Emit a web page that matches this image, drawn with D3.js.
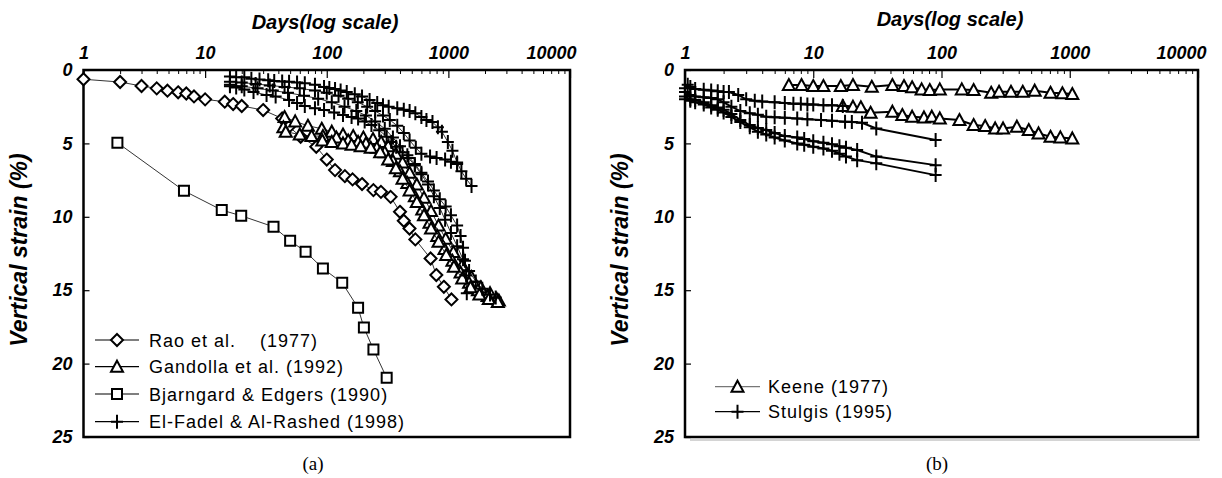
<!DOCTYPE html>
<html><head><meta charset="utf-8">
<script src="https://cdn.jsdelivr.net/npm/d3@7"></script>
<style>
html,body{margin:0;padding:0;background:#fff;}
svg{display:block;}
text{font-family:"Liberation Sans",Arial,sans-serif;fill:#000;}
.ax text{font-weight:bold;font-style:italic;font-size:18px;}
</style></head>
<body><svg id="c" width="1222" height="478"></svg>
<script>
// ---------- data ----------
const xTickValues = [1, 10, 100, 1000, 10000];
const xTickLabels = ["1", "10", "100", "1000", "10000"];
const yTickValues = [0, 5, 10, 15, 20, 25];
const titleX = "Days(log scale)";
const titleY = "Vertical strain (%)";

// panel (a)
const raoEtAl = [[1,0.63],[2,0.82],[3,1.09],[4,1.25],[4.9,1.41],[6,1.52],[7,1.6],[8.1,1.8],[10,2.0],[14.5,2.16],[17,2.32],[20,2.45],[30,2.73],[43,3.3],[49,3.86],[61,4.55],[82,5.23],[100,6.1],[117,6.82],[141,7.23],[163,7.45],[195,7.77],[242,8.18],[279,8.3],[335,8.64],[400,9.66],[430,10.27],[479,10.8],[535,11.54],[714,12.84],[796,13.97],[918,14.77],[1060,15.63]];
const bjarngard = [[1.9,4.95],[6.7,8.23],[13.7,9.54],[19.8,9.93],[36.5,10.68],[50,11.63],[67,12.38],[93,13.52],[134,14.5],[181,16.2],[202,17.54],[242,19.04],[311,20.97]];
const gandollaA = [[45,3.2],[55,3.5],[70,3.8],[91,4.0],[110,4.2],[136,4.4],[165,4.5],[200,4.6],[240,4.7],[280,4.9],[320,5.2],[370,5.7],[420,6.3],[480,7.0],[550,7.8],[630,8.7],[720,9.6],[830,10.6],[950,11.5],[1100,12.4],[1300,13.3],[1550,14.1],[1850,14.8],[2200,15.2],[2500,15.6]];
const gandollaB = [[44,3.9],[46,4.2],[60,4.4],[75,4.5],[93,4.5],[120,4.6],[150,4.8],[181,4.9],[210,5.0],[258,5.3],[300,5.6],[350,6.2],[400,6.9],[460,7.7],[530,8.6],[610,9.5],[700,10.4],[810,11.3],[930,12.2],[1080,13.0],[1260,13.8],[1480,14.5],[1750,15.0],[2100,15.4],[2600,15.7]];
const gandollaC = [[92,4.8],[110,4.9],[136,5.0],[160,5.1],[190,5.2],[230,5.3],[275,5.6],[320,6.1],[370,6.7],[420,7.4],[480,8.2],[550,9.0],[630,9.9],[720,10.8],[830,11.7],[960,12.6],[1110,13.4],[1300,14.2],[1520,14.8],[1800,15.3],[2150,15.6],[2550,15.8]];
const elFadelA = [[16,0.45],[18,0.5],[21,0.5],[24,0.6],[28,0.65],[33,0.7],[37,0.75],[43,0.78],[49,0.8],[57,0.85],[66,0.9],[80,1.0],[95,1.15],[105,1.22],[117,1.3],[130,1.4],[146,1.5],[170,1.65],[195,1.8],[225,2.05],[260,2.25],[290,2.4],[323,2.5],[380,2.6],[430,2.7],[480,2.8],[535,2.95],[600,3.2],[660,3.4],[740,3.55],[820,3.9],[885,4.2],[990,4.9],[1080,5.5],[1180,6.3],[1280,6.9],[1400,7.4],[1550,7.9]];
const elFadelB = [[16,1.1],[18,1.2],[21,1.32],[25,1.5],[32,1.7],[38,1.8],[49,2.05],[57,2.25],[66,2.45],[80,2.6],[95,2.73],[115,2.9],[136,3.07],[160,3.2],[181,3.3],[205,3.5],[233,3.75],[270,4.1],[311,4.55],[340,4.9],[372,5.23],[420,5.6],[470,6.0],[530,6.5],[600,7.1],[680,7.8],[760,8.6],[850,9.4],[940,10.2],[1050,11.1],[1180,12.0],[1320,12.9],[1480,13.7],[1680,14.4],[1900,14.9],[2200,15.3],[2450,15.5]];
const elFadelC = [[16,0.8],[20,0.85],[26,0.95],[34,1.05],[45,1.15],[60,1.25],[80,1.4],[100,1.55],[125,1.75],[150,1.95],[180,2.2],[215,2.5],[250,2.8],[290,3.1],[330,3.4],[380,3.8],[430,4.3],[480,4.8],[540,5.3],[600,5.7],[707,5.9],[800,6.0],[940,6.1],[1050,6.25],[1180,6.4]];
const elFadelD = [[16,1.0],[20,1.1],[27,1.25],[36,1.4],[48,1.55],[65,1.75],[85,1.95],[110,2.2],[140,2.5],[175,2.8],[210,3.1],[250,3.5],[300,4.0],[350,4.6],[400,5.2],[460,5.8],[530,6.4],[600,7.0],[680,7.6],[760,8.2],[850,8.8],[950,9.3],[1050,9.9],[1180,10.6],[1260,11.3],[1320,12.1],[1370,13.0],[1400,14.0],[1417,15.2]];

// panel (b)
const keeneA = [[6.45,1.02],[8.1,1.02],[10,1.09],[12,1.09],[16.4,1.09],[20.4,1.02],[28.6,1.14],[41.4,1.02],[51,1.09],[59,1.18],[70,1.32],[81,1.36],[97,1.32],[144,1.32],[178,1.36],[244,1.55],[281,1.48],[348,1.48],[430,1.48],[533,1.41],[708,1.55],[876,1.59],[1047,1.64]];
const keeneB = [[17,2.45],[20.4,2.5],[23.5,2.54],[28,2.91],[41.4,2.84],[49.5,3.07],[59,3.18],[73,3.23],[84,3.18],[97,3.3],[138,3.41],[178,3.75],[219,3.82],[262,3.98],[302,3.98],[387,3.86],[479,4.09],[571,4.32],[708,4.55],[845,4.59],[1047,4.66]];
const stulgisA = [[1,1.25],[1.05,1.0],[1.1,1.15],[1.2,1.3],[1.4,1.35],[1.6,1.4],[1.8,1.45],[2,1.5],[2.2,1.5],[2.6,1.7],[3,2.0],[3.5,2.1],[4,2.15],[5,2.2],[6,2.25],[7,2.3],[8,2.3],[9,2.35],[10,2.35],[12,2.4],[14,2.4],[17,2.45]];
const stulgisB = [[1,1.5],[1.1,1.7],[1.2,1.8],[1.4,1.85],[1.6,1.9],[1.8,2.0],[2,2.2],[2.3,2.5],[2.7,2.8],[3.2,2.95],[3.7,3.05],[4.3,3.18],[5,3.22],[6,3.26],[7.5,3.3],[9,3.35],[11.5,3.41],[14,3.45],[17.7,3.52],[20,3.55],[24,3.6],[31,3.98],[90,4.77]];
const stulgisC = [[1,1.8],[1.1,2.0],[1.2,2.05],[1.4,2.2],[1.6,2.4],[1.8,2.55],[2,2.7],[2.3,3.0],[2.7,3.4],[3.2,3.75],[3.7,3.95],[4.3,4.09],[5,4.3],[6,4.5],[7.5,4.6],[8.5,4.7],[10,4.85],[12,4.95],[14,5.05],[16,5.2],[18,5.3],[22,5.45],[31,5.9],[90,6.48]];
const stulgisD = [[1,2.0],[1.1,2.1],[1.2,2.2],[1.4,2.35],[1.6,2.55],[1.8,2.7],[2,2.9],[2.3,3.2],[2.7,3.55],[3.2,3.9],[3.7,4.2],[4.3,4.4],[5,4.6],[6,4.8],[7.5,5.0],[8.5,5.1],[10,5.23],[12,5.35],[14,5.5],[16,5.7],[18,5.9],[22,6.14],[31,6.36],[90,7.16]];

const legendA = ["Rao et al.    (1977)", "Gandolla et al. (1992)", "Bjarngard & Edgers (1990)", "El-Fadel & Al-Rashed (1998)"];
const legendB = ["Keene (1977)", "Stulgis (1995)"];

// ---------- drawing ----------
const svg = d3.select("#c");

function markerPath(t) {
  if (t === "diamond") return "M0,-6L6,0L0,6L-6,0Z";
  if (t === "triangle") return "M0,-6L6,5L-6,5Z";
  if (t === "square") return "M-5,-5H5V5H-5Z";
  return "M-6,0H6M0,-7V7";
}

function panel(cfg) {
  const g = svg.append("g");
  const x = d3.scaleLog().domain([1, 10000]).range([cfg.x0, cfg.x1]);
  const y = d3.scaleLinear().domain([0, 25]).range([cfg.y0, cfg.y1]);

  const minors = [];
  for (let e = 0; e < 4; e++) for (let k = 2; k <= 9; k++) minors.push(k * Math.pow(10, e));
  g.append("g").attr("transform", `translate(0,${cfg.y0})`)
    .call(d3.axisTop(x).tickValues(minors).tickSize(-4).tickFormat(""))
    .call(s => s.select(".domain").remove())
    .call(s => s.selectAll("line").attr("stroke", "#000").attr("stroke-width", 1));

  const ax = g.append("g").attr("class", "ax").attr("transform", `translate(0,${cfg.y0})`)
    .call(d3.axisTop(x).tickValues(xTickValues).tickSize(-8).tickPadding(11)
      .tickFormat((d, i) => xTickLabels[i]));
  ax.select(".domain").remove();
  ax.selectAll("line").attr("stroke", "#000").attr("stroke-width", 1.2);
  ax.selectAll("text").attr("text-anchor", (d, i) => i === xTickValues.length - 1 ? "end" : "middle")
    .attr("dx", (d, i) => i === xTickValues.length - 1 ? cfg.lastDx : 0);

  const ay = g.append("g").attr("class", "ax").attr("transform", `translate(${cfg.x0},0)`)
    .call(d3.axisLeft(y).tickValues(yTickValues).tickSize(-6).tickPadding(11));
  ay.select(".domain").remove();
  ay.selectAll("line").attr("stroke", "#000").attr("stroke-width", 1.2);

  g.append("rect").attr("x", cfg.x0).attr("y", cfg.y0)
    .attr("width", cfg.x1 - cfg.x0).attr("height", cfg.y1 - cfg.y0)
    .attr("fill", "none").attr("stroke", "#000").attr("stroke-width", 2.5);

  g.append("text").attr("x", cfg.titleX).attr("y", cfg.titleYpos)
    .attr("text-anchor", "middle").style("font-weight", "bold").style("font-style", "italic")
    .style("font-size", "20px").text(titleX);
  g.append("text").attr("transform", `translate(${cfg.ylabX},${cfg.ylabY}) rotate(-90)`)
    .attr("text-anchor", "middle").style("font-weight", "bold").style("font-style", "italic")
    .style("font-size", "23px").text(titleY);
  g.append("text").attr("x", cfg.capX).attr("y", 470).attr("text-anchor", "middle")
    .style("font-family", "'Liberation Serif','Times New Roman',serif").style("font-size", "19px")
    .text(cfg.caption);

  const line = d3.line().x(d => x(d[0])).y(d => y(d[1]));
  cfg.series.forEach(s => {
    s.data.forEach(arr => {
      g.append("path").attr("d", line(arr)).attr("fill", "none")
        .attr("stroke", "#000").attr("stroke-width", cfg.lw);
      g.selectAll(null).data(arr).enter().append("path")
        .attr("transform", d => `translate(${x(d[0])},${y(d[1])})`)
        .attr("d", markerPath(s.marker))
        .attr("fill", s.marker === "plus" ? "none" : "#fff")
        .attr("stroke", "#000").attr("stroke-width", 2);
    });
  });

  cfg.legend.forEach((lab, i) => {
    const ly = cfg.legY[i];
    g.append("line").attr("x1", cfg.legX0).attr("x2", cfg.legX1).attr("y1", ly).attr("y2", ly)
      .attr("stroke", cfg.legLineColor[i]).attr("stroke-width", 1.2);
    g.append("path").attr("transform", `translate(${(cfg.legX0 + cfg.legX1) / 2},${ly})`)
      .attr("d", markerPath(cfg.series[i].marker))
      .attr("fill", cfg.series[i].marker === "plus" ? "none" : "#fff")
      .attr("stroke", "#000").attr("stroke-width", 2);
    g.append("text").attr("x", cfg.legTX).attr("y", ly + 6.5)
      .style("font-size", "18px").style("letter-spacing", "1px")
      .style("white-space", "pre").attr("xml:space", "preserve")
      .text(lab);
  });
  return {x, y, g};
}

panel({
  x0: 83.5, x1: 570, y0: 70, y1: 437, lastDx: 6,
  titleX: 325, titleYpos: 29, ylabX: 27, ylabY: 250, capX: 313, caption: "(a)", lw: 0.8,
  series: [
    {marker: "diamond", data: [raoEtAl]},
    {marker: "triangle", data: [gandollaA, gandollaB, gandollaC]},
    {marker: "square", data: [bjarngard]},
    {marker: "plus", data: [elFadelA, elFadelB, elFadelC, elFadelD]}
  ],
  legend: legendA, legY: [340, 366.7, 394, 421.7], legX0: 95, legX1: 139, legTX: 149,
  legLineColor: ["#000", "#000", "#000", "#000"]
});

const pb = panel({
  x0: 685, x1: 1198, y0: 70, y1: 437, lastDx: 8,
  titleX: 950, titleYpos: 26, ylabX: 628, ylabY: 250, capX: 937, caption: "(b)", lw: 2,
  series: [
    {marker: "triangle", data: [keeneA, keeneB]},
    {marker: "plus", data: [stulgisA, stulgisB, stulgisC, stulgisD]}
  ],
  legend: legendB, legY: [386.7, 411.7], legX0: 715, legX1: 760, legTX: 768,
  legLineColor: ["#777", "#000"]
});
pb.g.append("line").attr("x1", 690).attr("x2", 1200).attr("y1", 440).attr("y2", 440)
  .attr("stroke", "#aaa").attr("stroke-width", 1);
</script>
</body></html>
